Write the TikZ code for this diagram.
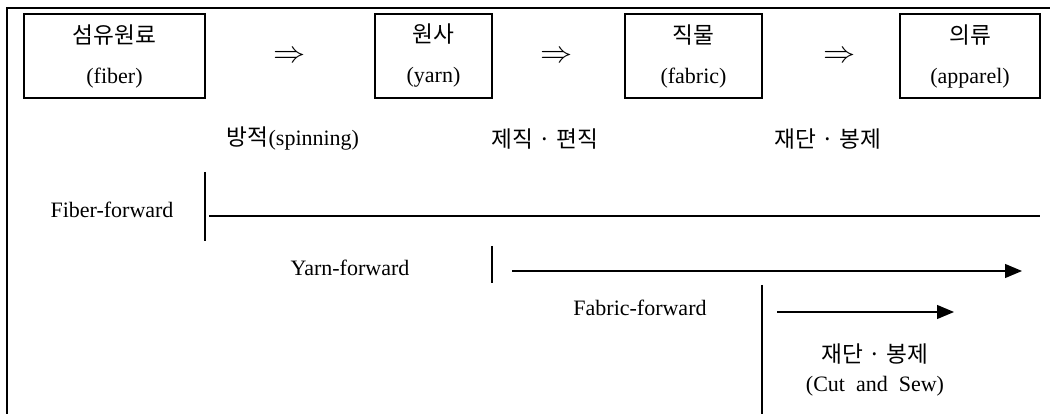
\documentclass[tikz,border=0pt]{standalone}
\usepackage{fontspec}
\setmainfont{Liberation Serif}
\newfontfamily\kr[Scale=1.03]{Noto Sans CJK KR}
\usetikzlibrary{arrows.meta}
\newcommand{\implarrow}{\scalebox{1.55}[1.45]{$\Rightarrow$}}
\begin{document}
\begin{tikzpicture}[x=1pt,y=-1pt,
  txt/.style={font=\fontsize{22}{26}\selectfont, inner sep=0pt},
  impl/.style={font=\fontsize{20}{24}\selectfont, inner sep=0pt},
  stage/.style={draw, line width=1.2pt, minimum height=84pt, inner sep=0pt, align=center,
     font=\fontsize{22}{40}\selectfont},
  bar/.style={line width=1.3pt},
  flow/.style={line width=1.2pt},
  flowarrow/.style={line width=1.2pt, -{Triangle[length=17pt,width=14pt]}},
  frame/.style={line width=2pt}]
\useasboundingbox (0,0) rectangle (1050,414);
% frame
\coordinate (fbl) at (7,414);
\coordinate (ftl) at (7,8);
\coordinate (ftr) at (1050,8);
\draw[frame] (fbl) -- (ftl) -- (ftr);
% stage boxes
\node[stage, minimum width=181pt] (fiber) at (114.5,56) {{\kr 섬유원료}\\(fiber)};
\node[stage, minimum width=117pt] (yarn) at (433.5,56) {{\kr 원사}\\(yarn)};
\node[stage, minimum width=137pt] (fabric) at (693.5,56) {{\kr 직물}\\(fabric)};
\node[stage, minimum width=140pt] (apparel) at (970,56) {{\kr 의류}\\(apparel)};
% implication arrows
\node[impl] (i1) at (290,57) {\implarrow};
\node[impl] (i2) at (557,57) {\implarrow};
\node[impl] (i3) at (840,57) {\implarrow};
% process labels
\node[txt] (spin) at (293,139) {{\kr 방적}(spinning)};
\node[txt] (weave) at (545,139) {\kr 제직 · 편직};
\node[txt] (cut) at (828,139) {\kr 재단 · 봉제};
% Fiber-forward
\node[txt] (ff) at (112,210) {Fiber-forward};
\coordinate (ffa) at (205,172);
\coordinate (ffb) at (205,241);
\draw[bar] (ffa) -- (ffb);
\coordinate (ffs) at (209,216);
\coordinate (ffe) at (1040,216);
\draw[flow] (ffs) -- (ffe);
% Yarn-forward
\node[txt] (yf) at (350,268) {Yarn-forward};
\coordinate (yfa) at (492,246);
\coordinate (yfb) at (492,283);
\draw[bar] (yfa) -- (yfb);
\coordinate (yfs) at (512,271);
\coordinate (yfe) at (1022,271);
\draw[flowarrow] (yfs) -- (yfe);
% Fabric-forward
\node[txt] (fbf) at (640,308) {Fabric-forward};
\coordinate (fba) at (762,285);
\coordinate (fbb) at (762,414);
\draw[bar] (fba) -- (fbb);
\coordinate (fbs) at (777,312);
\coordinate (fbe) at (954,312);
\draw[flowarrow] (fbs) -- (fbe);
% Cut and Sew
\node[txt] (cs1) at (875,354) {\kr 재단 · 봉제};
\node[txt] (cs2) at (875,386) {(Cut\ \ and\ \ Sew)};
\end{tikzpicture}
\end{document}
